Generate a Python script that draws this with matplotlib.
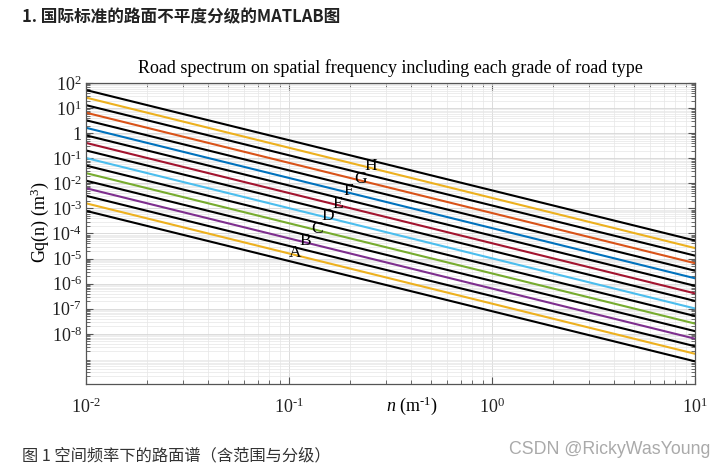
import numpy as np
import matplotlib
matplotlib.use("Agg")
import matplotlib.pyplot as plt
from matplotlib.ticker import LogLocator, NullFormatter

# road grades and their spectrum levels at n0 = 0.1 m^-1 (units 1e-6 m^3)
grades = ["A", "B", "C", "D", "E", "F", "G", "H"]
gq_mean = [16, 64, 256, 1024, 4096, 16384, 65536, 262144]
gq_bound = [8, 32, 128, 512, 2048, 8192, 32768, 131072, 524288]
mean_colors = ["#EDB120", "#7E2F8E", "#77AC30", "#4DBEEE",
               "#A2142F", "#0072BD", "#D95319", "#EDB120"]
n0 = 0.1
n_range = [0.01, 10.0]
label_n = [0.1, 0.113, 0.128, 0.145, 0.163, 0.185, 0.209, 0.236]

ytick_vals = [1e-8, 1e-7, 1e-6, 1e-5, 1e-4, 1e-3, 1e-2, 1e-1, 1, 10, 100]
ytick_labels = [r"$10^{‐8}$", r"$10^{‐7}$", r"$10^{‐6}$", r"$10^{‐5}$",
                r"$10^{‐4}$", r"$10^{‐3}$", r"$10^{‐2}$", r"$10^{‐1}$",
                "1", r"$10^{1}$", r"$10^{2}$"]
xtick_vals = [0.01, 0.1, 1, 10]
xtick_labels = [r"$10^{‐2}$", r"$10^{‐1}$", r"$10^{0}$", r"$10^{1}$"]

plt.rcParams["mathtext.fontset"] = "custom"
plt.rcParams["mathtext.rm"] = "Liberation Serif"
plt.rcParams["mathtext.it"] = "Liberation Serif:italic"
serif = "Liberation Serif"


def gq(level, n):
    # ISO 8608 spectrum, waviness w = 2
    return level * 1e-6 * (np.asarray(n) / n0) ** -2.0


W, H = 723, 469
fig = plt.figure(figsize=(W / 100, H / 100), dpi=100)
fig.patch.set_facecolor("white")

left, right, top, bottom = 86, 695, 83, 384
ax = fig.add_axes([left / W, 1 - bottom / H, (right - left) / W, (bottom - top) / H])

n = np.array(n_range)
# draw from lowest to highest: bound, mean, bound, ...
for i in range(len(grades)):
    ax.plot(n, gq(gq_bound[i], n), color="black", lw=1.5)
    ax.plot(n, gq(gq_mean[i], n), color=mean_colors[i], lw=1.5)
ax.plot(n, gq(gq_bound[-1], n), color="black", lw=1.5)

for g, lv, xn in zip(grades, gq_mean, label_n):
    ax.text(xn, gq(lv, xn), g, ha="left", va="center", fontsize=12.5, family=serif)

ax.set_xscale("log")
ax.set_yscale("log")
ax.set_xlim(0.01, 10)
ax.set_ylim(1e-10, 1e2)

ax.set_xticks(xtick_vals)
ax.set_xticklabels(xtick_labels)
ax.set_yticks(ytick_vals)
ax.set_yticklabels(ytick_labels)
ax.xaxis.set_minor_locator(LogLocator(base=10, subs=np.arange(2, 10), numticks=100))
ax.yaxis.set_minor_locator(LogLocator(base=10, subs=np.arange(2, 10), numticks=100))
ax.xaxis.set_minor_formatter(NullFormatter())
ax.yaxis.set_minor_formatter(NullFormatter())

for lab in ax.get_xticklabels() + ax.get_yticklabels():
    lab.set_family(serif)
    lab.set_fontsize(13)

ax.tick_params(which="both", direction="in", top=True, right=True, colors="#555555",
               labelcolor="#222222")
ax.tick_params(which="major", length=5, width=0.8)
ax.tick_params(which="minor", length=3, width=0.6)
ax.tick_params(axis="x", which="major", pad=10)
ax.tick_params(axis="y", which="major", pad=3)

ax.grid(True, which="major", color="#d6d6d6", lw=0.6)
ax.grid(True, which="minor", color="#e6e6e6", lw=0.5)
ax.set_axisbelow(True)
for s in ax.spines.values():
    s.set_color("#555555")
    s.set_linewidth(0.9)

ax.set_title("Road spectrum on spatial frequency including each grade of road type",
             fontsize=13, family=serif, pad=7)

fig.text(412 / W, 1 - 406 / H, r"$n$ (m$^{‐1}$)", ha="center", va="center",
         fontsize=13, family=serif)
fig.text(40 / W, 1 - 222 / H, r"Gq(n) (m$^{3}$)", ha="center", va="center",
         rotation=90, fontsize=13, family=serif)

# page text around the figure
fig.text(22 / W, 1 - 17 / H, "1. 国际标准的路面不平度分级的MATLAB图", ha="left", va="center",
         fontsize=12, fontweight="bold", family=["Noto Sans CJK SC", "DejaVu Sans"],
         color="#222222")
fig.text(22 / W, 1 - 456 / H, "图 1 空间频率下的路面谱（含范围与分级）", ha="left", va="center",
         fontsize=11.7, family=["Noto Sans CJK SC", "DejaVu Sans"], color="#333333")
fig.text(710 / W, 1 - 449 / H, "CSDN @RickyWasYoung", ha="right", va="center",
         fontsize=12.8, family="Liberation Sans", color="#aaaaaa")

fig.savefig("out.png", dpi=100)
